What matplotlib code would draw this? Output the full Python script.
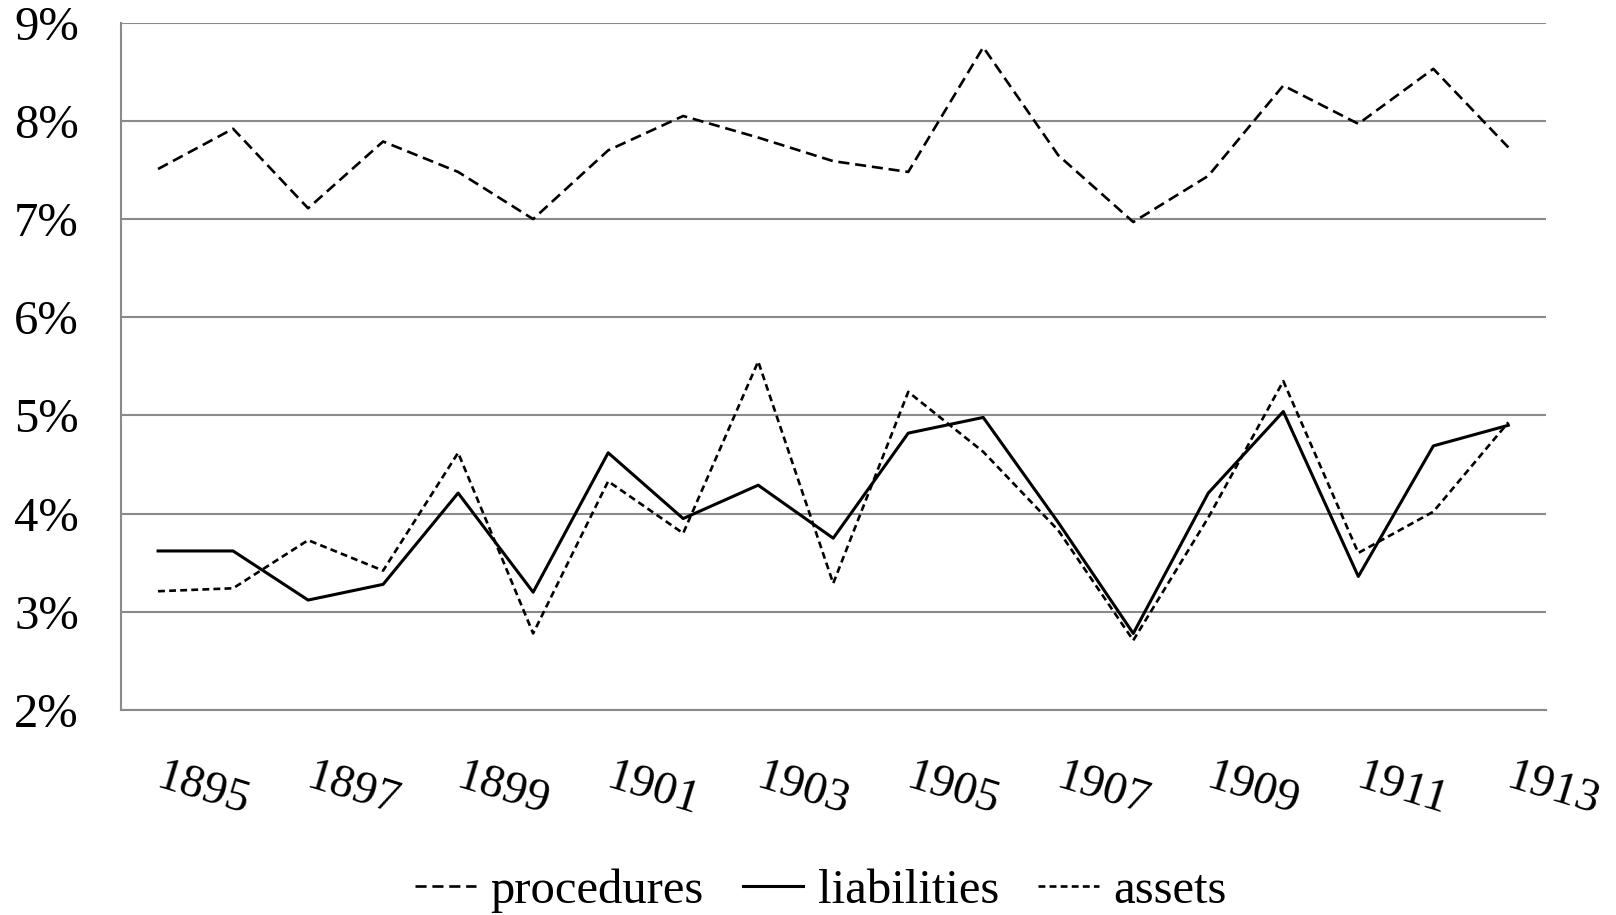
import matplotlib.pyplot as plt
from matplotlib.ticker import FuncFormatter

years = list(range(1895, 1914))

procedures = [7.51, 7.92, 7.11, 7.79, 7.48, 7.00, 7.70, 8.05, 7.83, 7.59,
              7.48, 8.75, 7.65, 6.97, 7.44, 8.36, 7.97, 8.53, 7.73]
liabilities = [3.62, 3.62, 3.12, 3.28, 4.21, 3.20, 4.62, 3.95, 4.29, 3.75,
               4.82, 4.98, 3.91, 2.78, 4.21, 5.04, 3.36, 4.69, 4.90]
assets = [3.21, 3.24, 3.73, 3.42, 4.62, 2.78, 4.33, 3.80, 5.55, 3.29,
          5.24, 4.63, 3.83, 2.71, 3.96, 5.35, 3.60, 4.02, 4.93]

font = "Liberation Serif"
fs = 35

fig = plt.figure(figsize=(16.16, 9.15), dpi=100)
ax = fig.add_axes([0.0746, 0.224, 0.882, 0.7512])

x = list(range(len(years)))
ax.plot(x, procedures, color="black", lw=1.9, linestyle=(0, (4.2, 2.2)), label="procedures")
ax.plot(x, liabilities, color="black", lw=2.2, linestyle="-", label="liabilities")
ax.plot(x, assets, color="black", lw=1.9, linestyle=(0, (2.6, 1.6)), label="assets")

ax.set_xlim(-0.5, len(years) - 0.5)
ax.set_ylim(2, 9)
ax.set_yticks(range(2, 10))
ax.yaxis.set_major_formatter(FuncFormatter(lambda v, p: f"{int(v)}%"))
ax.grid(axis="y", color="#8a8a8a", lw=1.5)
ax.set_axisbelow(True)

ax.set_xticks(x[::2])
ax.set_xticklabels([str(y) for y in years[::2]], rotation=-17, ha="left",
                   rotation_mode="anchor", va="center")

for s in ["top", "right"]:
    ax.spines[s].set_visible(False)
for s in ["left", "bottom"]:
    ax.spines[s].set_color("#8a8a8a")
    ax.spines[s].set_linewidth(1.5)

ax.tick_params(axis="both", length=0)
ax.tick_params(axis="y", pad=30)
ax.tick_params(axis="x", pad=48)
for t in ax.get_yticklabels():
    t.set_fontfamily(font)
    t.set_fontsize(fs)
for t in ax.get_xticklabels():
    t.set_fontfamily(font)
    t.set_fontsize(34)

fig.legend(loc="center", bbox_to_anchor=(0.508, 0.026), ncol=3, frameon=False,
           prop={"family": font, "size": fs}, handlelength=1.25,
           handletextpad=0.3, columnspacing=0.8)

fig.savefig("out.png", dpi=100)
